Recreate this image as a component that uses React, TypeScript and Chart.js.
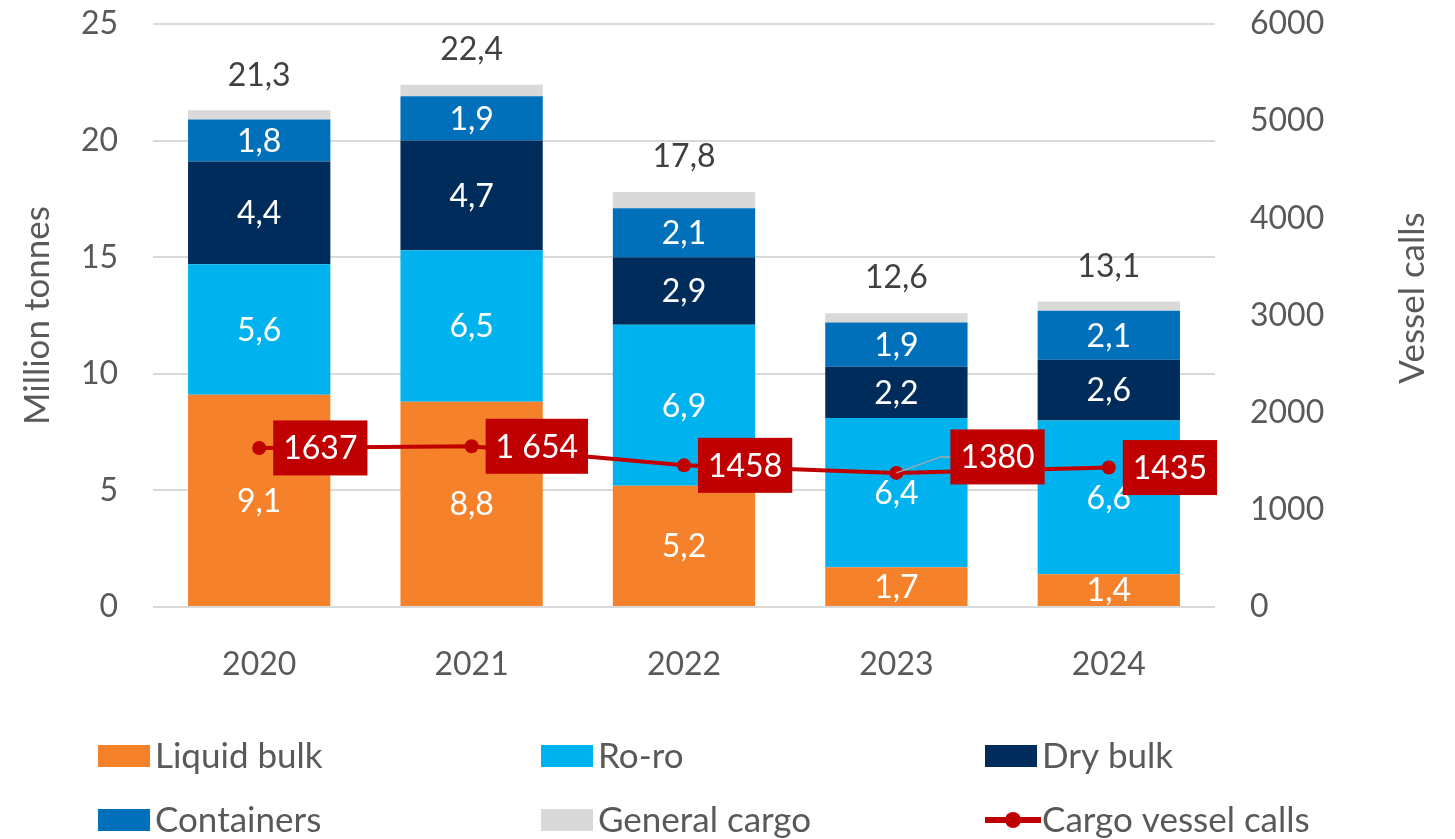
import React, { useEffect, useRef } from "react";
import { Chart, registerables } from "chart.js";

Chart.register(...registerables);

const years = ["2020", "2021", "2022", "2023", "2024"];
const liquidBulk = [9.1, 8.8, 5.2, 1.7, 1.4];
const roRo = [5.6, 6.5, 6.9, 6.4, 6.6];
const dryBulk = [4.4, 4.7, 2.9, 2.2, 2.6];
const containers = [1.8, 1.9, 2.1, 1.9, 2.1];
const generalCargo = [0.4, 0.5, 0.7, 0.4, 0.4];
const totals = [21.3, 22.4, 17.8, 12.6, 13.1];
const vesselCalls = [1637, 1654, 1458, 1380, 1435];
const vesselCallLabels = ["1637", "1 654", "1458", "1380", "1435"];
const leftTicks = [0, 5, 10, 15, 20, 25];
const rightTicks = [0, 1000, 2000, 3000, 4000, 5000, 6000];
const leftTitle = "Million tonnes";
const rightTitle = "Vessel calls";

const FONT = "Lato, 'Noto Sans', sans-serif";
const GREY = "#595959";
const COLORS = {
  liquid: "#F5822A",
  roro: "#00B3EE",
  dry: "#002C5C",
  cont: "#0070BA",
  gen: "#D9D9D9",
  line: "#C00000",
};

// label box offsets (style only)
const labelOffsets = [
  { dx: 0, dy: 0 },
  { dx: 0, dy: 0 },
  { dx: 0, dy: 0 },
  { dx: 40, dy: -16 },
  { dx: 0, dy: 0 },
];

const fmt = (v: number) => v.toFixed(1).replace(".", ",");

const labelPlugin = {
  id: "customLabels",
  afterDatasetsDraw(chart: any) {
    const ctx = chart.ctx;
    ctx.save();
    ctx.font = `32px ${FONT}`;
    ctx.textAlign = "center";
    ctx.textBaseline = "middle";
    for (let d = 0; d < 4; d++) {
      const meta = chart.getDatasetMeta(d);
      const vals = chart.data.datasets[d].data;
      meta.data.forEach((bar: any, i: number) => {
        const { x, y, base } = bar.getProps(["x", "y", "base"], true);
        ctx.fillStyle = "#ffffff";
        ctx.fillText(fmt(vals[i]), x, (y + base) / 2 + 1);
      });
    }
    const topMeta = chart.getDatasetMeta(4);
    topMeta.data.forEach((bar: any, i: number) => {
      const { x, y } = bar.getProps(["x", "y"], true);
      ctx.fillStyle = "#404040";
      ctx.fillText(fmt(totals[i]), x, y - 35);
    });
    const lineMeta = chart.getDatasetMeta(5);
    ctx.font = `32px ${FONT}`;
    lineMeta.data.forEach((pt: any, i: number) => {
      const { x, y } = pt.getProps(["x", "y"], true);
      const text = vesselCallLabels[i];
      const w = ctx.measureText(text).width + 20;
      const h = 55;
      const off = labelOffsets[i];
      const bx = x + 14 + off.dx;
      const by = y - h / 2 + off.dy;
      if (off.dx !== 0 || off.dy !== 0) {
        ctx.strokeStyle = "#A6A6A6";
        ctx.lineWidth = 1.5;
        ctx.beginPath();
        ctx.moveTo(x, y);
        ctx.lineTo(bx - 10, y + off.dy);
        ctx.lineTo(bx, y + off.dy);
        ctx.stroke();
      }
      ctx.fillStyle = COLORS.line;
      ctx.fillRect(bx, by, w, h);
      ctx.fillStyle = "#ffffff";
      ctx.fillText(text, bx + w / 2, by + h / 2 + 1);
    });
    ctx.restore();
  },
  afterDraw(chart: any) {
    const ctx = chart.ctx;
    ctx.save();
    ctx.font = `35px ${FONT}`;
    ctx.fillStyle = GREY;
    ctx.textAlign = "center";
    ctx.textBaseline = "middle";
    ctx.translate(1413, 298);
    ctx.rotate(-Math.PI / 2);
    ctx.fillText(rightTitle, 0, 0);
    ctx.setTransform(1, 0, 0, 1, 0, 0);
    // legend
    ctx.textAlign = "left";
    const cols = [98, 541, 985];
    const rows = [756, 820];
    const ds = chart.data.datasets;
    for (let k = 0; k < ds.length; k++) {
      const col = cols[k % 3];
      const row = rows[Math.floor(k / 3)];
      if (ds[k].type === "line") {
        ctx.strokeStyle = ds[k].borderColor;
        ctx.lineWidth = 6;
        ctx.beginPath();
        ctx.moveTo(col, row);
        ctx.lineTo(col + 56, row);
        ctx.stroke();
        ctx.fillStyle = ds[k].borderColor;
        ctx.beginPath();
        ctx.arc(col + 28, row, 8, 0, Math.PI * 2);
        ctx.fill();
      } else {
        ctx.fillStyle = ds[k].backgroundColor;
        ctx.fillRect(col, row - 11, 52, 22);
      }
      ctx.fillStyle = GREY;
      ctx.fillText(ds[k].label, col + 57, row + 1);
    }
    ctx.restore();
  },
};

export default function App() {
  const ref = useRef<HTMLCanvasElement | null>(null);
  useEffect(() => {
    document.body.style.margin = "0";
    const canvas = ref.current!;
    const barBase = {
      type: "bar" as const,
      yAxisID: "y",
      stack: "s",
      order: 2,
      barPercentage: 0.67,
      categoryPercentage: 1,
      borderWidth: 0,
    };
    const chart = new Chart(canvas, {
      type: "bar",
      data: {
        labels: years,
        datasets: [
          { ...barBase, label: "Liquid bulk", data: liquidBulk, backgroundColor: COLORS.liquid },
          { ...barBase, label: "Ro-ro", data: roRo, backgroundColor: COLORS.roro },
          { ...barBase, label: "Dry bulk", data: dryBulk, backgroundColor: COLORS.dry },
          { ...barBase, label: "Containers", data: containers, backgroundColor: COLORS.cont },
          { ...barBase, label: "General cargo", data: generalCargo, backgroundColor: COLORS.gen },
          {
            type: "line" as const,
            label: "Cargo vessel calls",
            data: vesselCalls,
            yAxisID: "y1",
            order: 1,
            borderColor: COLORS.line,
            backgroundColor: COLORS.line,
            borderWidth: 4,
            pointRadius: 7,
            pointBackgroundColor: COLORS.line,
            pointBorderWidth: 0,
            tension: 0,
          } as any,
        ],
      },
      options: {
        animation: false,
        responsive: false,
        maintainAspectRatio: false,
        layout: { padding: { top: 24, left: 0, right: 0, bottom: 0 } },
        plugins: { legend: { display: false }, tooltip: { enabled: false } },
        scales: {
          x: {
            grid: { display: false },
            border: { display: false },
            ticks: { color: GREY, font: { family: FONT, size: 32 }, padding: 30 },
            afterFit: (s: any) => {
              s.height = 839 - 607;
              s.paddingLeft = 0;
              s.paddingRight = 0;
            },
          },
          y: {
            position: "left",
            stacked: true,
            min: 0,
            max: 25,
            afterBuildTicks: (s: any) => {
              s.ticks = leftTicks.map((v) => ({ value: v }));
            },
            grid: { color: "#D9D9D9", lineWidth: 2, drawTicks: false },
            border: { display: false },
            ticks: { color: GREY, font: { family: FONT, size: 32 }, padding: 35 },
            title: {
              display: true,
              text: leftTitle,
              color: GREY,
              font: { family: FONT, size: 35 },
              padding: { top: 17, bottom: 0 },
            },
            afterFit: (s: any) => {
              s.width = 153;
              s.paddingTop = 0;
              s.paddingBottom = 0;
            },
          },
          y1: {
            position: "right",
            min: 0,
            max: 6000,
            afterBuildTicks: (s: any) => {
              s.ticks = rightTicks.map((v) => ({ value: v }));
            },
            grid: { drawOnChartArea: false, drawTicks: false },
            border: { display: false },
            ticks: {
              color: GREY,
              font: { family: FONT, size: 32 },
              padding: 35,
              callback: (v: any) => String(v),
            },
            afterFit: (s: any) => {
              s.width = 1455 - 1215;
              s.paddingTop = 0;
              s.paddingBottom = 0;
            },
          },
        },
      } as any,
      plugins: [labelPlugin],
    });
    return () => chart.destroy();
  }, []);
  return (
    <div style={{ width: 1455, height: 839 }}>
      <canvas ref={ref} width={1455} height={839} style={{ display: "block", width: 1455, height: 839 }} />
    </div>
  );
}
